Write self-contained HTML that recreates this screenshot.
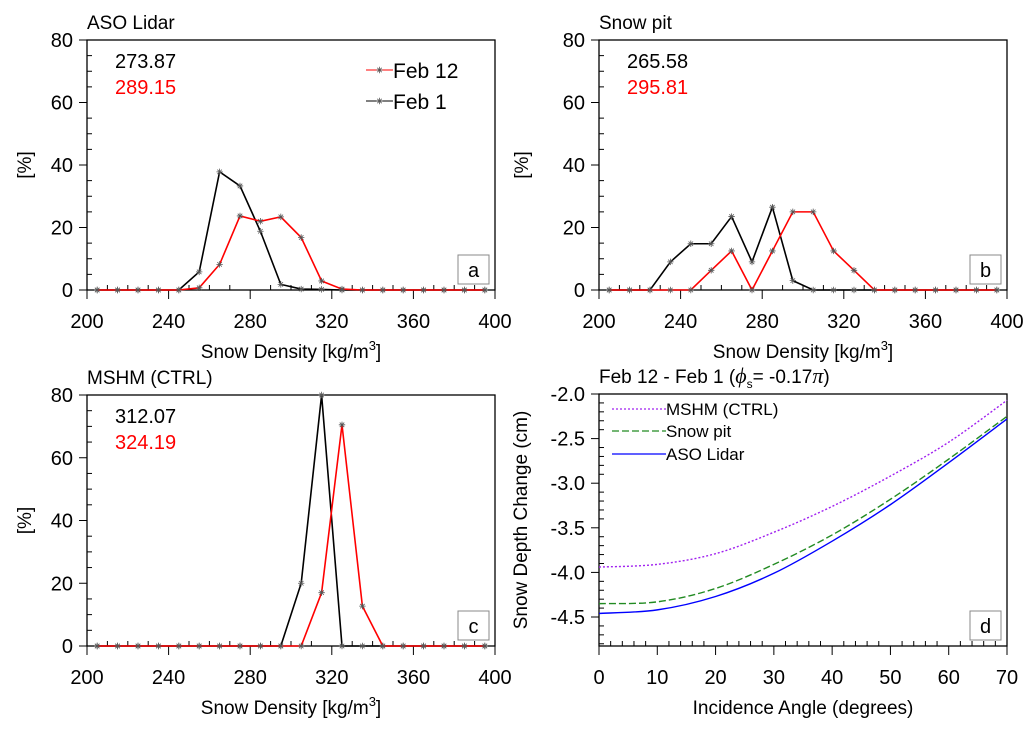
<!DOCTYPE html>
<html><head><meta charset="utf-8"><style>
body{margin:0;background:#fff;}
svg{display:block;font-family:"Liberation Sans",sans-serif;}
</style></head><body>
<svg id="c" width="1034" height="730" xmlns="http://www.w3.org/2000/svg"></svg>
<script>
const bins=[205,215,225,235,245,255,265,275,285,295,305,315,325,335,345,355,365,375,385,395];
const aFeb1=[0,0,0,0,0,5.8,37.8,33.3,18.8,1.8,0.3,0.2,0,0,0,0,0,0,0,0];
const aFeb12=[0,0,0,0,0,0.7,8.2,23.7,22,23.4,16.8,2.9,0.3,0,0,0,0,0,0,0];
const bFeb1=[0,0,0,9,14.8,14.8,23.5,9,26.5,3,0,0,0,0,0,0,0,0,0,0];
const bFeb12=[0,0,0,0,0,6.3,12.5,0,12.5,25,25,12.5,6.3,0,0,0,0,0,0,0];
const cFeb1=[0,0,0,0,0,0,0,0,0,0,20,80,0,0,0,0,0,0,0,0];
const cFeb12=[0,0,0,0,0,0,0,0,0,0,0,17,70.5,12.7,0,0,0,0,0,0];
const xTicks=[200,240,280,320,360,400];
const yTicks=[0,20,40,60,80];
const angles=[0,10,20,30,40,50,60,70];
const dMSHM=[-3.94,-3.91,-3.79,-3.55,-3.26,-2.92,-2.54,-2.07];
const dPit=[-4.35,-4.33,-4.18,-3.91,-3.58,-3.18,-2.73,-2.25];
const dASO=[-4.46,-4.42,-4.27,-4.01,-3.65,-3.24,-2.77,-2.28];
const dXTicks=[0,10,20,30,40,50,60,70];
const dYTicks=[-2.0,-2.5,-3.0,-3.5,-4.0,-4.5];

const svg=document.getElementById('c');
const NS='http://www.w3.org/2000/svg';
function el(tag,attrs,parent,text){const e=document.createElementNS(NS,tag);for(const k in attrs)e.setAttribute(k,attrs[k]);if(text!==undefined)e.textContent=text;(parent||svg).appendChild(e);return e;}

function panel(opt){
  const g=el('g',{});
  
  
  const {x0,x1,y0,y1,xmin,xmax,ymin,ymax}=opt;
  const sx=v=>x0+(v-xmin)/(xmax-xmin)*(x1-x0);
  const sy=v=>y1-(v-ymin)/(ymax-ymin)*(y1-y0);
  const fr=el('rect',{x:x0,y:y0,width:x1-x0,height:y1-y0,fill:'none',stroke:'#000','stroke-width':1.3},g);
  
  
  for(let v=xmin;v<=xmax+1e-9;v+=opt.xminor){
    const major=opt.xTicks.some(t=>Math.abs(t-v)<1e-6);
    el('line',{x1:sx(v),x2:sx(v),y1:y1,y2:major?y1+9:y1-5,stroke:'#000','stroke-width':1},g);
  }
  opt.xTicks.forEach(t=>{const tx=el('text',{x:sx(t),y:y1+38,'font-size':20,'text-anchor':'middle'},g,opt.xfmt?opt.xfmt(t):t);
    });
  const ys=opt.ystart!==undefined?opt.ystart:ymin;
  for(let v=ys;v<=ymax+1e-9;v+=opt.yminor){
    const major=opt.yTicks.some(t=>Math.abs(t-v)<1e-6);
    el('line',{x1:x0,x2:major?x0-8:x0+5,y1:sy(v),y2:sy(v),stroke:'#000','stroke-width':1},g);
  }
  opt.yTicks.forEach(t=>{const tx=el('text',{x:x0-14,y:sy(t)+7,'font-size':20,'text-anchor':'end'},g,opt.yfmt?opt.yfmt(t):t);
    });
  const tt=el('text',{x:x0,y:y0-11,'font-size':19},g,opt.title);
  
  if(opt.titleHTML){tt.textContent='';opt.titleHTML(tt);}
  const xt=el('text',{x:(x0+x1)/2,y:y1+68,'font-size':19,'text-anchor':'middle'},g);
  
  if(opt.xsup){xt.appendChild(document.createTextNode(opt.xtitle));el('tspan',{'font-size':13,dy:-8},xt,'3');el('tspan',{dy:8},xt,']');}
  else xt.textContent=opt.xtitle;
  const yt=el('text',{x:0,y:0,'font-size':19,'text-anchor':'middle',transform:`translate(${opt.ytx},${(y0+y1)/2}) rotate(-90)`},g,opt.ytitle);
  
  const bx=el('g',{},g);
  
  el('rect',{x:x1-37,y:y1-35,width:31,height:29,fill:'#fff',stroke:'#888','stroke-width':1},bx);
  el('text',{x:x1-21.5,y:y1-13,'font-size':20,'text-anchor':'middle'},bx,opt.label);
  return {g,sx,sy};
}
function star(g,x,y,col){
  const r=3.2;
  el('path',{d:`M${x-r} ${y}H${x+r}M${x} ${y-r}V${y+r}M${x-r*0.7} ${y-r*0.7}L${x+r*0.7} ${y+r*0.7}M${x-r*0.7} ${y+r*0.7}L${x+r*0.7} ${y-r*0.7}`,stroke:col,'stroke-width':0.8,fill:'none'},g);
}
function histSeries(P,xs,ys,col,name){
  const g=el('g',{},P.g);
  
  el('polyline',{points:xs.map((x,i)=>P.sx(x)+','+P.sy(ys[i])).join(' '),fill:'none',stroke:col,'stroke-width':1.6},g);
  xs.forEach((x,i)=>star(g,P.sx(x),P.sy(ys[i]),'#555'));
}
function histPanel(o,f1,f12,m1,m12){
  const P=panel(Object.assign({xmin:200,xmax:400,ymin:0,ymax:80,xTicks,yTicks,xminor:10,yminor:5,xtitle:'Snow Density [kg/m',xsup:true,ytitle:'[%]'},o));
  histSeries(P,bins,f1,'#000','series-feb1');
  histSeries(P,bins,f12,'#ff0000','series-feb12');
  const t1=el('text',{x:P.sx(200)+28,y:P.sy(80)+28,'font-size':20},P.g,m1);
  
  const t2=el('text',{x:P.sx(200)+28,y:P.sy(80)+54,'font-size':20,fill:'#ff0000'},P.g,m12);
  
  return P;
}
const A=histPanel({name:'panel-a',x0:87,x1:495,y0:40,y1:290,title:'ASO Lidar',label:'a',ytx:31},aFeb1,aFeb12,'273.87','289.15');
[['Feb 12','#ff0000',70],['Feb 1','#000',101]].forEach(([t,c,y])=>{
  const lg=el('g',{},A.g);
  
  el('line',{x1:366,x2:393,y1:y,y2:y,stroke:c,'stroke-width':1},lg);
  star(lg,379.5,y,'#555');
  el('text',{x:393,y:y+8,'font-size':21},lg,t);
});
histPanel({name:'panel-b',x0:599,x1:1007,y0:40,y1:290,title:'Snow pit',label:'b',ytx:528},bFeb1,bFeb12,'265.58','295.81');
histPanel({name:'panel-c',x0:87,x1:495,y0:395,y1:646,title:'MSHM (CTRL)',label:'c',ytx:31},cFeb1,cFeb12,'312.07','324.19');

const D=panel({name:'panel-d',x0:599,x1:1007,y0:394,y1:646,xmin:0,xmax:70,ymin:-4.825,ymax:-2.0,ystart:-4.8,xTicks:dXTicks,yTicks:dYTicks,xminor:2,yminor:0.1,
  yfmt:v=>v.toFixed(1),xtitle:'Incidence Angle (degrees)',ytitle:'Snow Depth Change (cm)',ytx:527,label:'d',title:'',
  titleHTML:t=>{t.appendChild(document.createTextNode('Feb 12 - Feb 1 ('));el('tspan',{'font-family':'Liberation Serif, serif','font-style':'italic','font-size':22},t,'\u03D5');el('tspan',{'font-size':12,dy:5},t,'s');el('tspan',{dy:-5},t,'= -0.17');el('tspan',{'font-family':'Liberation Serif, serif','font-style':'italic','font-size':22},t,'\u03C0');t.appendChild(document.createTextNode(')'));}});
function curve(vals,col,dash,name){
  const pts=angles.map((a,i)=>[D.sx(a),D.sy(vals[i])]);
  let d='M'+pts[0][0]+' '+pts[0][1];
  for(let i=0;i<pts.length-1;i++){
    const p0=pts[i-1]||pts[i],p1=pts[i],p2=pts[i+1],p3=pts[i+2]||p2;
    d+=` C${p1[0]+(p2[0]-p0[0])/6} ${p1[1]+(p2[1]-p0[1])/6} ${p2[0]-(p3[0]-p1[0])/6} ${p2[1]-(p3[1]-p1[1])/6} ${p2[0]} ${p2[1]}`;
  }
  const p=el('path',{d,fill:'none',stroke:col,'stroke-width':1.4,'stroke-dasharray':dash},D.g);
  
}
curve(dMSHM,'#a020f0','2 2','line-mshm');
curve(dPit,'#228b22','7 3','line-snow-pit');
curve(dASO,'#0000ff','none','line-aso-lidar');
[['MSHM (CTRL)','#a020f0','2 2',409],['Snow pit','#228b22','7 3',431],['ASO Lidar','#0000ff','none',454]].forEach(([t,c,da,y])=>{
  const lg=el('g',{},D.g);
  
  el('line',{x1:612,x2:666,y1:y,y2:y,stroke:c,'stroke-width':1.3,'stroke-dasharray':da},lg);
  el('text',{x:666,y:y+6,'font-size':17},lg,t);
});
</script>
</body></html>
